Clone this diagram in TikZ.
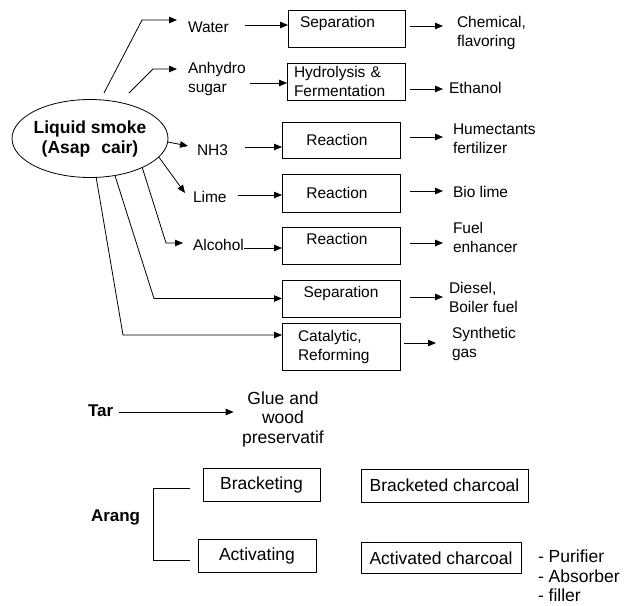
\documentclass[tikz,border=0pt]{standalone}
\usepackage{fontspec}
\setmainfont{Liberation Sans}
\usetikzlibrary{arrows.meta,shapes.geometric}
\begin{document}
\begin{tikzpicture}[x=1pt,y=-1pt,
  every node/.style={font=\fontsize{15.5}{19}\selectfont},
  txt/.style={inner sep=0pt, outer sep=0pt, align=left},
  bigtxt/.style={inner sep=0pt, outer sep=0pt, font=\fontsize{17.5}{19.5}\selectfont},
  boldtxt/.style={inner sep=0pt, outer sep=0pt, font=\fontsize{17}{20}\selectfont\bfseries},
  box/.style={draw, line width=0.8pt, inner sep=0pt, outer sep=0pt, align=center, minimum width=118pt, minimum height=37pt},
  bigbox/.style={box, font=\fontsize{17.5}{19.5}\selectfont, minimum height=33pt},
  arr/.style={line width=0.8pt, -{Triangle[length=8pt,width=6.5pt]}},
  ln/.style={line width=0.8pt}]
\useasboundingbox (0,0) rectangle (633,606);

% central ellipse
\node[ellipse, draw, line width=0.8pt, minimum width=156pt, minimum height=78pt,
      inner sep=-4pt, outer sep=0pt, align=center,
      font=\fontsize{17.5}{20}\selectfont\bfseries] (ls) at (90,138.5)
      {Liquid smoke\\(Asap\hspace{0.35em} cair)};

% intermediate products
\node[txt, anchor=west] (water) at (188,27) {Water};
\node[txt, anchor=west] (anh) at (188,79) {Anhydro\\sugar};
\node[txt, anchor=west] (nh3) at (197,150) {NH3};
\node[txt, anchor=west] (lime) at (193,197) {Lime};
\node[txt, anchor=west] (alc) at (193,245) {Alcohol};

% process boxes
\node[box, minimum width=117pt] (sep1) at (346.5,28.5) {\raisebox{1pt}[0pt][0pt]{Separation}\hspace{18pt}};
\node[box, text width=104pt, align=left] (hyd) at (346,81.5) {Hydrolysis \&\\Fermentation};
\node[box, minimum height=36pt] (rea1) at (341,140) {Reaction\hspace{8pt}};
\node[box, minimum height=38pt] (rea2) at (341,193) {Reaction\hspace{8pt}};
\node[box] (rea3) at (341,245.5) {\raisebox{1.5pt}[0pt][0pt]{Reaction}\hspace{8pt}};
\node[box] (sep2) at (341,298.5) {\raisebox{1pt}[0pt][0pt]{Separation}};
\node[box, minimum height=47pt, text width=86pt, align=left] (cat) at (341,346.5) {Catalytic,\\Reforming};

% products
\node[txt, anchor=west] (chem) at (457,33) {Chemical,\\flavoring};
\node[txt, anchor=west] (eth) at (449,88) {Ethanol};
\node[txt, anchor=west] (hum) at (453,139) {Humectants\\fertilizer};
\node[txt, anchor=west] (bio) at (453,192) {Bio lime};
\node[txt, anchor=west] (fuel) at (453,237) {Fuel\\enhancer};
\node[txt, anchor=west] (die) at (449,297.5) {Diesel,\\Boiler fuel};
\node[txt, anchor=west] (syn) at (452,344) {Synthetic\\gas};

% ellipse to intermediates
\coordinate (e1) at (104,93);
\coordinate (e2) at (129,93);
\draw[arr] (e1) -- (142,20) -- ++(35,0);
\draw[arr] (e2) -- (153,69) -- ++(24,0);
\draw[arr] ([yshift=-3.5pt]ls.east) -- (188,146);
\draw[arr] (ls.345) -- (185,193);
\draw[arr] (ls.331) -- (166,243) -- ++(17,0);
\draw[arr] (ls.304) -- (154,298.5) -- (sep2.west);
\coordinate (c7) at (123,335);
\draw[arr] (ls.279) -- (c7) -- (c7 -| cat.west);

% intermediates to boxes
\coordinate (wA) at ([shift={(16,-2)}]water.east);
\draw[arr] (wA) -- (wA -| sep1.west);
\coordinate (aA) at ([shift={(4,4)}]anh.east);
\draw[arr] (aA) -- (aA -| hyd.west);
\coordinate (nA) at ([shift={(17,-3)}]nh3.east);
\draw[arr] (nA) -- (nA -| rea1.west);
\coordinate (lA) at ([shift={(11,-2)}]lime.east);
\draw[arr] (lA) -- (lA -| rea2.west);
\coordinate (cA) at ([shift={(0,3)}]alc.east);
\draw[arr] (cA) -- (cA -| rea3.west);

% boxes to products
\draw[arr] ([shift={(5,-2.5)}]sep1.east) -- ++(33,0);
\draw[arr] ([shift={(5,7.5)}]hyd.east) -- ++(33,0);
\draw[arr] ([shift={(10,-3)}]rea1.east) -- ++(33,0);
\draw[arr] ([shift={(10,-2)}]rea2.east) -- ++(33,0);
\draw[arr] ([shift={(10,-2.5)}]rea3.east) -- ++(33,0);
\draw[arr] ([shift={(10,-1.5)}]sep2.east) -- ++(33,0);
\draw[arr] ([shift={(4,-3.5)}]cat.east) -- ++(32,0);

% tar
\node[boldtxt, anchor=west] (tar) at (88,411) {Tar};
\node[bigtxt, align=center] (glue) at (283,419) {Glue and\\wood\\preservatif};
\draw[arr] ([shift={(5.5,1)}]tar.east) -- ++(115,0);

% arang
\node[boldtxt, anchor=west] (arang) at (91,517) {Arang};
\node[bigbox, minimum width=117pt] (brk) at (261.5,484.5) {Bracketing};
\node[bigbox, minimum width=118pt] (act) at (257,555.5) {Activating};
\node[bigbox, minimum width=167pt] (brc) at (444.5,485.5) {Bracketed charcoal};
\node[bigbox, minimum width=160pt, minimum height=31pt] (acc) at (441,558) {Activated charcoal};
\node[bigtxt, anchor=west, align=left] (use) at (538,576) {- Purifier\\- Absorber\\- filler};
\coordinate (bk1) at (190,488);
\coordinate (bk2) at (190,560);
\draw[ln] (bk1) -- ++(-37,0) |- (bk2);
\end{tikzpicture}
\end{document}
